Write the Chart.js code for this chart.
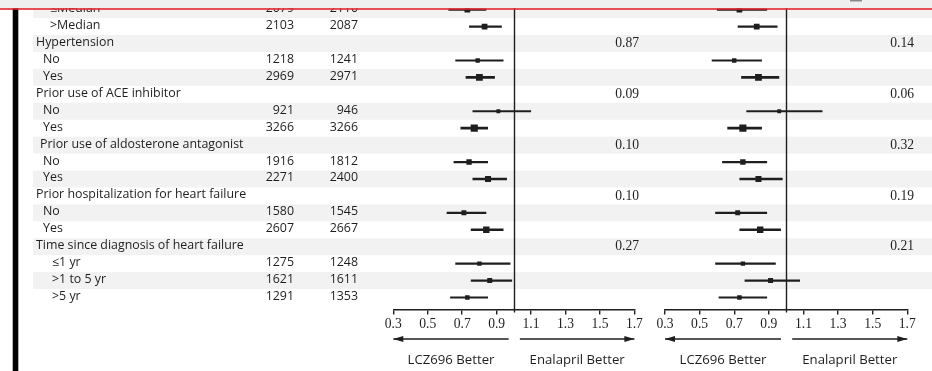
<!DOCTYPE html>
<html>
<head>
<meta charset="utf-8">
<script src="https://cdn.jsdelivr.net/npm/chart.js@4.4.0/dist/chart.umd.min.js"></script>
<style>
  html, body { margin: 0; padding: 0; background: #fff; }
  #wrap { position: relative; width: 932px; height: 371px; overflow: hidden; }
  #wrap canvas { position: absolute; left: 0; top: 0; }
</style>
</head>
<body>
<div id="wrap">
  <canvas id="panelA" width="932" height="371"></canvas>
  <canvas id="panelB" width="932" height="371"></canvas>
</div>
<script>
// ---- Subgroup table ----
const rowLabels = [
  '\u2264Median', '>Median',
  'Hypertension', 'No', 'Yes',
  'Prior use of ACE inhibitor', 'No', 'Yes',
  'Prior use of aldosterone antagonist', 'No', 'Yes',
  'Prior hospitalization for heart failure', 'No', 'Yes',
  'Time since diagnosis of heart failure', '\u22641 yr', '>1 to 5 yr', '>5 yr'
];
const rowKind = ['median', 'median', 'head', 'sub', 'sub', 'head', 'sub', 'sub',
  'head2', 'sub', 'sub', 'head', 'sub', 'sub', 'head', 'time', 'time', 'time'];

const nLCZ696    = [2079, 2103, null, 1218, 2969, null, 921, 3266, null, 1916, 2271, null, 1580, 2607, null, 1275, 1621, 1291];
const nEnalapril = [2110, 2087, null, 1241, 2971, null, 946, 3266, null, 1812, 2400, null, 1545, 2667, null, 1248, 1611, 1353];

// P values for interaction, left and right panels
const pLeft  = [null, null, '0.87', null, null, '0.09', null, null, '0.10', null, null, '0.10', null, null, '0.27', null, null, null];
const pRight = [null, null, '0.14', null, null, '0.06', null, null, '0.32', null, null, '0.19', null, null, '0.21', null, null, null];

// Hazard ratios with 95% CI, left panel
const hrLeft = [0.73, 0.83, null, 0.79, 0.80, null, 0.91, 0.77, null, 0.74, 0.85, null, 0.71, 0.84, null, 0.80, 0.86, 0.73];
const loLeft = [0.62, 0.74, null, 0.66, 0.72, null, 0.76, 0.69, null, 0.65, 0.76, null, 0.61, 0.75, null, 0.66, 0.75, 0.63];
const hiLeft = [0.84, 0.93, null, 0.94, 0.89, null, 1.10, 0.85, null, 0.85, 0.96, null, 0.84, 0.94, null, 0.98, 0.99, 0.85];

// Hazard ratios with 95% CI, right panel
const hrRight = [0.73, 0.83, null, 0.70, 0.84, null, 0.96, 0.75, null, 0.75, 0.84, null, 0.72, 0.85, null, 0.75, 0.91, 0.73];
const loRight = [0.60, 0.72, null, 0.57, 0.74, null, 0.77, 0.66, null, 0.63, 0.73, null, 0.59, 0.73, null, 0.59, 0.76, 0.61];
const hiRight = [0.89, 0.95, null, 0.86, 0.96, null, 1.21, 0.86, null, 0.89, 0.98, null, 0.89, 0.97, null, 0.94, 1.08, 0.89];

const xTicks = [0.3, 0.5, 0.7, 0.9, 1.1, 1.3, 1.5, 1.7];
const betterLabels = ['LCZ696 Better', 'Enalapril Better'];

// ---- Layout & style ----
const W = 932, H = 371;
const AXIS_Y = 309.5;          // bottom of plotting area
const TOP_Y = 1.2;
const Y_MAX = 17.71;
const INK = '#1e1e1e';
const BAND = '#f2f2f2';
const LABEL_FONT = '"Open Sans", "DejaVu Sans", sans-serif';
const NUM_FONT = '"Liberation Serif", "DejaVu Serif", serif';
const INDENT = { head: 36, head2: 40, sub: 43, median: 50, time: 52 };
const COL_N1_RIGHT = 294, COL_N2_RIGHT = 358;

// square side grows with subgroup size
function markSide(i) {
  return 0.088 * Math.sqrt(nLCZ696[i] + nEnalapril[i]);
}

function buildDatasets(hr, lo, hi) {
  const sets = [];
  hr.forEach((v, i) => {
    if (v == null) return;
    const s = markSide(i);
    sets.push({
      data: [{ x: lo[i], y: i }, { x: hi[i], y: i }],
      showLine: true,
      borderColor: INK,
      borderWidth: 1.2 + 0.2 * s,
      pointRadius: 0,
      order: 2
    });
  });
  const pts = [];
  hr.forEach((v, i) => { if (v != null) pts.push({ x: v, y: i }); });
  sets.push({
    data: pts,
    pointStyle: 'rect',
    pointRadius: ctx => markSide(ctx.raw.y) / Math.SQRT2,
    backgroundColor: INK,
    borderWidth: 0,
    pointBorderWidth: 0,
    order: 1
  });
  return sets;
}

// Reference line, axis arrows, "Better" captions and interaction P values
function panelDecor(pValues, pRightEdge) {
  return {
    id: 'panelDecor',
    beforeDatasetsDraw(chart) {
      const { ctx, scales: { x }, chartArea } = chart;
      const x1 = Math.round(x.getPixelForValue(1)) + 0.5;
      ctx.save();
      ctx.strokeStyle = INK;
      ctx.lineWidth = 1.4;
      ctx.beginPath();
      ctx.moveTo(x1, 0);
      ctx.lineTo(x1, chartArea.bottom + 3);
      ctx.stroke();
      ctx.restore();
    },
    afterDraw(chart) {
      const { ctx, scales: { x, y } } = chart;
      ctx.save();
      // arrows
      const ay = 339;
      const segs = [[0.3, 0.97, -1], [1.035, 1.7, 1]];
      ctx.strokeStyle = INK;
      ctx.fillStyle = INK;
      ctx.lineWidth = 1.5;
      segs.forEach(([a, b, dir], k) => {
        const xa = x.getPixelForValue(a), xb = x.getPixelForValue(b);
        ctx.beginPath();
        ctx.moveTo(xa, ay);
        ctx.lineTo(xb, ay);
        ctx.stroke();
        const tip = dir < 0 ? xa : xb;
        ctx.beginPath();
        ctx.moveTo(tip, ay);
        ctx.lineTo(tip - dir * 10, ay - 3);
        ctx.lineTo(tip - dir * 10, ay + 3);
        ctx.closePath();
        ctx.fill();
        ctx.font = '13.2px ' + LABEL_FONT;
        ctx.textAlign = 'center';
        ctx.textBaseline = 'alphabetic';
        ctx.fillText(betterLabels[k], (xa + xb) / 2, 364);
      });
      // interaction P values
      ctx.font = '13.6px ' + NUM_FONT;
      ctx.textAlign = 'right';
      pValues.forEach((p, i) => {
        if (p == null) return;
        ctx.fillText(p, pRightEdge, y.getPixelForValue(i) + 3.8);
      });
      ctx.restore();
    }
  };
}

// Row shading, left rule and the subgroup / patient-count columns
const tablePlugin = {
  id: 'subgroupTable',
  beforeDraw(chart) {
    const { ctx, scales: { y } } = chart;
    const step = Math.abs(y.getPixelForValue(1) - y.getPixelForValue(0));
    ctx.save();
    ctx.fillStyle = BAND;
    rowLabels.forEach((_, i) => {
      if (i % 2) return;
      const c = y.getPixelForValue(i);
      ctx.fillRect(33, c - step / 2, W - 33, step);
    });
    ctx.fillStyle = '#000';
    ctx.fillRect(12.7, 0, 5.6, H);
    ctx.fillStyle = INK;
    ctx.font = '12.4px ' + LABEL_FONT;
    ctx.textBaseline = 'alphabetic';
    rowLabels.forEach((lab, i) => {
      const base = y.getPixelForValue(i) + 2.5;
      ctx.textAlign = 'left';
      ctx.fillText(lab, INDENT[rowKind[i]], base);
      ctx.textAlign = 'right';
      if (nLCZ696[i] != null) ctx.fillText(String(nLCZ696[i]), COL_N1_RIGHT, base);
      if (nEnalapril[i] != null) ctx.fillText(String(nEnalapril[i]), COL_N2_RIGHT, base);
    });
    ctx.restore();
  }
};

// Grey header strip with red rule along the top edge
const topStrip = {
  id: 'topStrip',
  afterDraw(chart) {
    const ctx = chart.ctx;
    ctx.save();
    ctx.fillStyle = '#efefef';
    ctx.fillRect(0, 0, W, 8.3);
    ctx.fillStyle = '#e3262c';
    ctx.fillRect(0, 8.2, W, 1.6);
    ctx.fillStyle = '#8a8a8a';
    ctx.fillRect(850, 0, 12, 1.5);
    ctx.restore();
  }
};

function panelOptions(left, right) {
  return {
    responsive: false,
    animation: false,
    devicePixelRatio: 1,
    events: [],
    layout: { autoPadding: false, padding: { left: left, right: W - right, top: TOP_Y, bottom: 0 } },
    plugins: { legend: { display: false }, tooltip: { enabled: false } },
    scales: {
      x: {
        type: 'linear',
        min: 0.3, max: 1.7,
        afterBuildTicks: s => { s.ticks = xTicks.map(v => ({ value: v })); },
        afterFit: s => { s.height = H - AXIS_Y; },
        grid: { drawOnChartArea: false, drawTicks: true, tickLength: 5, color: INK, lineWidth: 1.4 },
        border: { display: true, color: INK, width: 1.4 },
        ticks: {
          color: INK, padding: 2, maxRotation: 0, autoSkip: false,
          font: { family: NUM_FONT, size: 13.6 },
          callback: v => Number(v).toFixed(1)
        }
      },
      y: { type: 'linear', display: false, min: -0.5, max: Y_MAX, reverse: true }
    }
  };
}

new Chart(document.getElementById('panelA'), {
  type: 'scatter',
  data: { datasets: buildDatasets(hrLeft, loLeft, hiLeft) },
  options: panelOptions(393.3, 634.4),
  plugins: [tablePlugin, panelDecor(pLeft, 639)]
});

new Chart(document.getElementById('panelB'), {
  type: 'scatter',
  data: { datasets: buildDatasets(hrRight, loRight, hiRight) },
  options: panelOptions(665, 907.3),
  plugins: [panelDecor(pRight, 914), topStrip]
});
</script>
</body>
</html>
